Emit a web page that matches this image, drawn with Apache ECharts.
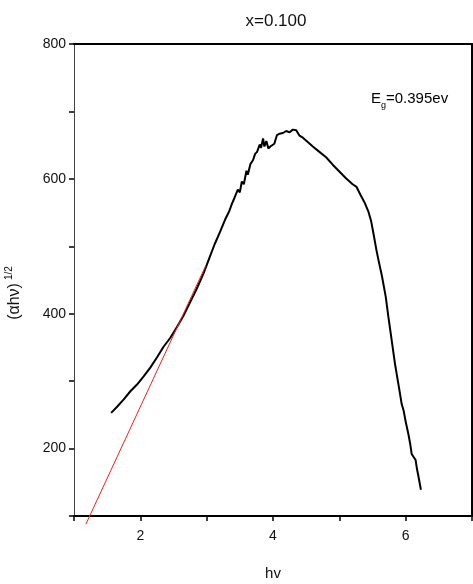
<!DOCTYPE html>
<html>
<head>
<meta charset="utf-8">
<script src="https://cdn.jsdelivr.net/npm/echarts@6/dist/echarts.min.js"></script>
<style>
  html, body { margin: 0; padding: 0; background: #ffffff; }
  #chart { width: 473px; height: 584px; }
</style>
</head>
<body>
<div id="chart"></div>
<script>
// Photon energy hv (eV) and Tauc value (αhν)^1/2
const hv = [1.56,1.65,1.75,1.85,1.95,2.05,2.15,2.25,2.35,2.45,2.55,2.65,2.75,2.85,2.95,3.05,3.12,3.20,3.28,3.34,3.38,3.42,3.44,3.47,3.50,3.53,3.56,3.60,3.62,3.66,3.70,3.73,3.76,3.80,3.82,3.85,3.87,3.90,3.93,3.96,3.99,4.02,4.06,4.10,4.15,4.20,4.25,4.30,4.35,4.40,4.45,4.52,4.60,4.70,4.80,4.90,5.00,5.10,5.20,5.26,5.32,5.38,5.44,5.48,5.52,5.56,5.60,5.64,5.70,5.74,5.79,5.84,5.90,5.94,5.97,6.00,6.04,6.07,6.09,6.12,6.15,6.17,6.19,6.23];
const tauc = [253,262,273,285,295,307,320,335,351,364,380,397,417,437,459,485,503,521,540,552,563,572,570,584,580,596,592,612,606,622,628,637,640,651,646,660,648,656,645,648,646,652,665,667,668,671,669,673,672,664,661,655,648,640,632,621,611,601,592,588,576,565,551,537,516,494,475,457,425,395,360,325,290,266,256,240,222,206,192,190,183,170,160,139];

// Linear fit of the absorption edge
const fitX = [1.18, 2.985];
const fitY = [88, 471];

const xTickLabels = ['2', '4', '6'];
const yTickLabels = ['200', '400', '600', '800'];

const chart = echarts.init(document.getElementById('chart'));
const font = 'Liberation Sans, Arial, sans-serif';

chart.setOption({
  animation: false,
  backgroundColor: '#ffffff',
  title: {
    text: 'x=0.100',
    left: 271,
    top: 8,
    textAlign: 'center',
    textStyle: { fontFamily: font, fontSize: 17, fontWeight: 'normal', color: '#111' }
  },
  graphic: [{
    type: 'text',
    left: 371,
    top: 91,
    style: {
      text: '{a|E}{s|g}{a|=0.395ev}',
      rich: {
        a: { fontFamily: font, fontSize: 15, color: '#111', lineHeight: 22 },
        s: { fontFamily: font, fontSize: 9, color: '#111', verticalAlign: 'bottom', padding: [10, 0, 0, 0], lineHeight: 22 }
      }
    }
  }],
  grid: { left: 74, right: 1, top: 44, bottom: 68, containLabel: false, outerBoundsMode: 'none' },
  xAxis: [{
    type: 'value',
    min: 1, max: 7, interval: 1,
    name: 'hv',
    nameLocation: 'middle',
    nameGap: 50,
    nameTextStyle: { fontFamily: font, fontSize: 15, color: '#111' },
    axisLine: { onZero: false, lineStyle: { color: '#000', width: 2 } },
    axisTick: { length: 5, lineStyle: { color: '#000', width: 1.5 } },
    axisLabel: {
      fontFamily: font, fontSize: 14, color: '#111', margin: 13,
      formatter: v => xTickLabels.includes(String(v)) ? String(v) : ''
    },
    splitLine: { show: false }
  }, {
    type: 'value',
    position: 'top',
    min: 1, max: 7,
    axisLine: { show: true, onZero: false, lineStyle: { color: '#000', width: 2 } },
    axisTick: { show: false },
    axisLabel: { show: false },
    splitLine: { show: false }
  }],
  yAxis: [{
    type: 'value',
    min: 100, max: 800, interval: 100,
    name: '{a|(αhν)}{s|1/2}',
    nameLocation: 'middle',
    nameRotate: 90,
    nameGap: 48,
    nameTextStyle: {
      padding: [0, 26, 0, 0],
      rich: {
        a: { fontFamily: font, fontSize: 16, color: '#111', lineHeight: 22 },
        s: { fontFamily: font, fontSize: 10, color: '#111', verticalAlign: 'top', padding: [0, 0, 9, 3], lineHeight: 22 }
      }
    },
    axisLine: { show: true, onZero: false, lineStyle: { color: '#444', width: 1 } },
    axisTick: { length: 5, lineStyle: { color: '#000', width: 1.5 } },
    axisLabel: {
      fontFamily: font, fontSize: 14, color: '#111', margin: 8,
      formatter: v => yTickLabels.includes(String(v)) ? String(v) : ''
    },
    splitLine: { show: false }
  }, {
    type: 'value',
    position: 'right',
    min: 100, max: 800,
    axisLine: { show: true, onZero: false, lineStyle: { color: '#000', width: 2 } },
    axisTick: { show: false },
    axisLabel: { show: false },
    splitLine: { show: false }
  }],
  series: [{
    type: 'line',
    data: hv.map((x, i) => [x, tauc[i]]),
    showSymbol: false,
    lineStyle: { color: '#000', width: 2 },
    z: 3
  }, {
    type: 'line',
    data: fitX.map((x, i) => [x, fitY[i]]),
    showSymbol: false,
    clip: false,
    lineStyle: { color: '#ff1a1a', width: 1 },
    z: 4
  }]
});
</script>
</body>
</html>
